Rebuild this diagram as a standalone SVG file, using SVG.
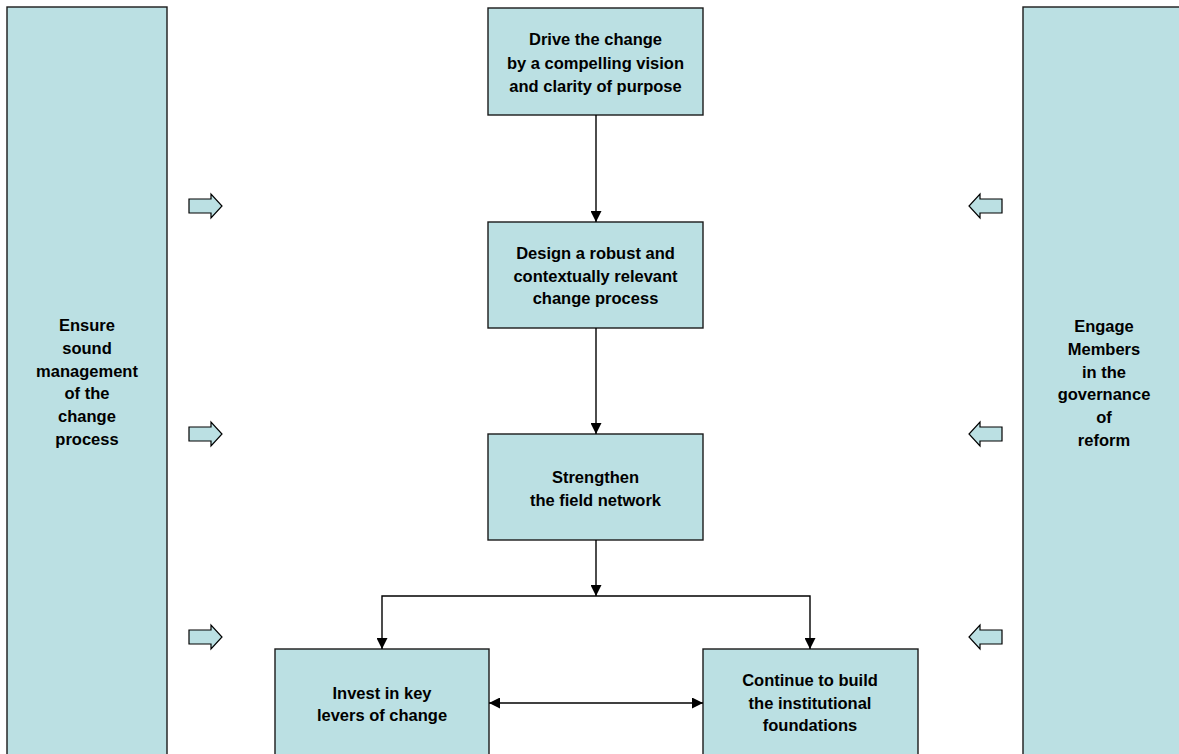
<svg xmlns="http://www.w3.org/2000/svg" width="1179" height="754" viewBox="0 0 1179 754">
<style>
.box{fill:#bbe0e3;stroke:#1a1a1a;stroke-width:1.4}
.t{font-family:"Liberation Sans",Arial,sans-serif;font-weight:bold;font-size:16.5px;fill:#000;text-anchor:middle}
.c{stroke:#000;stroke-width:1.4;fill:none}
.blk{fill:#bbe0e3;stroke:#000;stroke-width:1.2;stroke-linejoin:miter}
</style>
<defs>
<marker id="ah" viewBox="0 0 10 10" refX="10" refY="5" markerWidth="11" markerHeight="11" markerUnits="userSpaceOnUse" orient="auto-start-reverse">
<path d="M0,0 L10,5 L0,10 Z" fill="#000"/>
</marker>
<path id="rarrow" d="M0,-7 L22,-7 L22,-12 L33,0 L22,12 L22,7 L0,7 Z"/>
</defs>
<rect width="1179" height="754" fill="#fff"/>

<g id="left-panel">
<rect class="box" x="7" y="7" width="160" height="760"/>
<text class="t"><tspan x="87" y="331">Ensure</tspan><tspan x="87" y="354">sound</tspan><tspan x="87" y="377">management</tspan><tspan x="87" y="399">of the</tspan><tspan x="87" y="422">change</tspan><tspan x="87" y="445">process</tspan></text>
</g>

<g id="right-panel">
<rect class="box" x="1023" y="7" width="162" height="760"/>
<text class="t"><tspan x="1104" y="332">Engage</tspan><tspan x="1104" y="355">Members</tspan><tspan x="1104" y="378">in the</tspan><tspan x="1104" y="400">governance</tspan><tspan x="1104" y="423">of</tspan><tspan x="1104" y="446">reform</tspan></text>
</g>

<g id="node-vision">
<rect class="box" x="488" y="8" width="215" height="107"/>
<text class="t"><tspan x="595.5" y="45">Drive the change</tspan><tspan x="595.5" y="69">by a compelling vision</tspan><tspan x="595.5" y="92">and clarity of purpose</tspan></text>
</g>

<g id="node-design">
<rect class="box" x="488" y="222" width="215" height="106"/>
<text class="t"><tspan x="595.5" y="259">Design a robust and</tspan><tspan x="595.5" y="282">contextually relevant</tspan><tspan x="595.5" y="304">change process</tspan></text>
</g>

<g id="node-field">
<rect class="box" x="488" y="434" width="215" height="106"/>
<text class="t"><tspan x="595.5" y="483">Strengthen</tspan><tspan x="595.5" y="506">the field network</tspan></text>
</g>

<g id="node-levers">
<rect class="box" x="275" y="649" width="214" height="120"/>
<text class="t"><tspan x="382" y="699">Invest in key</tspan><tspan x="382" y="721">levers of change</tspan></text>
</g>

<g id="node-foundations">
<rect class="box" x="703" y="649" width="215" height="120"/>
<text class="t"><tspan x="810" y="686">Continue to build</tspan><tspan x="810" y="709">the institutional</tspan><tspan x="810" y="731">foundations</tspan></text>
</g>

<g id="connectors">
<line class="c" x1="596" y1="115" x2="596" y2="222" marker-end="url(#ah)"/>
<line class="c" x1="596" y1="328" x2="596" y2="434" marker-end="url(#ah)"/>
<line class="c" x1="596" y1="540" x2="596" y2="596" marker-end="url(#ah)"/>
<polyline class="c" points="382,649 382,596 810,596 810,649" marker-start="url(#ah)" marker-end="url(#ah)"/>
<line class="c" x1="489" y1="703" x2="703" y2="703" marker-start="url(#ah)" marker-end="url(#ah)"/>
</g>

<g id="block-arrows">
<use href="#rarrow" class="blk" transform="translate(189,206)"/>
<use href="#rarrow" class="blk" transform="translate(189,434)"/>
<use href="#rarrow" class="blk" transform="translate(189,637)"/>
<use href="#rarrow" class="blk" transform="translate(1002,206) scale(-1,1)"/>
<use href="#rarrow" class="blk" transform="translate(1002,434) scale(-1,1)"/>
<use href="#rarrow" class="blk" transform="translate(1002,637) scale(-1,1)"/>
</g>
</svg>
